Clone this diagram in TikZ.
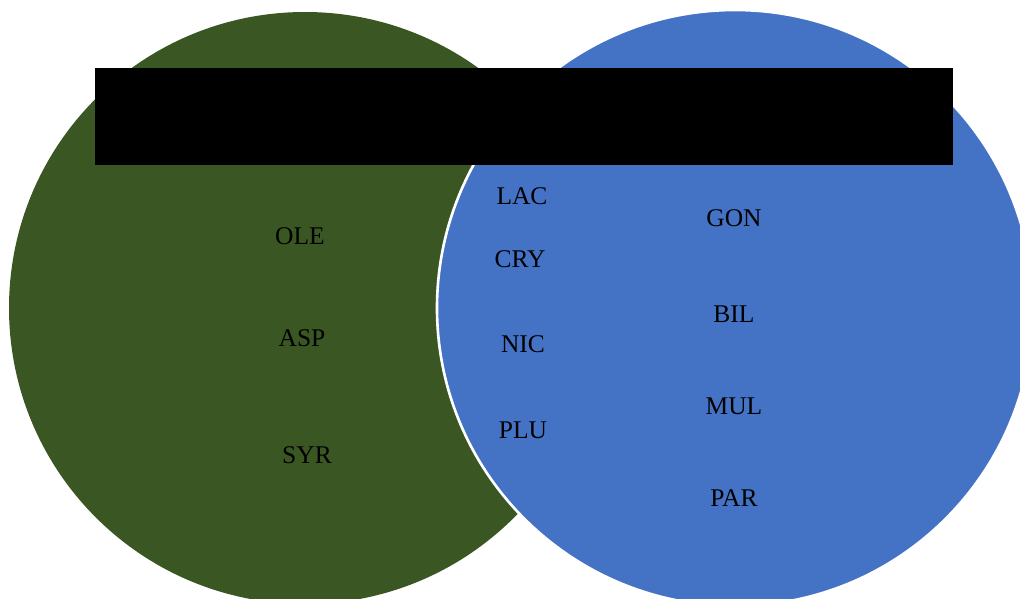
\documentclass[tikz,border=0pt]{standalone}
\usepackage{fontspec}
\setmainfont{Liberation Serif}
\usepackage{xcolor}
\usetikzlibrary{positioning, calc}
\definecolor{setgreen}{RGB}{58,86,34}
\definecolor{setblue}{RGB}{68,114,196}
\tikzset{lbl/.style={font=\fontsize{14.5}{16}\selectfont, text=black, inner sep=0pt}}

\begin{document}
\begin{tikzpicture}[x=0.02cm, y=-0.02cm]

% Canvas
\useasboundingbox (0,0) rectangle (1020,598);
\clip (0,0) rectangle (1020,598);

% Set sizes
\def\greenr{296}
\def\bluer{298}

% Left set
\fill[setgreen] (305,308) circle (\greenr);

% Right set, drawn on top
\filldraw[fill=setblue, draw=white, line width=1.5pt] (735,308) circle (\bluer);

% Title bar
\fill[black] (95,68) rectangle (953,165);

% --- Left only ---
\node[lbl] (ole) at (300,236) {OLE};
\node[lbl] (asp) at (302,338) {ASP};
\node[lbl] (syr) at (307,455) {SYR};

% --- Overlap ---
\node[lbl] (lac) at (522,196) {LAC};
\node[lbl] (cry) at (520,259) {CRY};
\node[lbl] (nic) at (523,344) {NIC};
\node[lbl] (plu) at (523,430) {PLU};

% --- Right only ---
\node[lbl] (gon) at (734,218) {GON};
\node[lbl] (bil) at (734,314) {BIL};
\node[lbl] (mul) at (734,406) {MUL};
\node[lbl] (par) at (734,498) {PAR};

\end{tikzpicture}
\end{document}
